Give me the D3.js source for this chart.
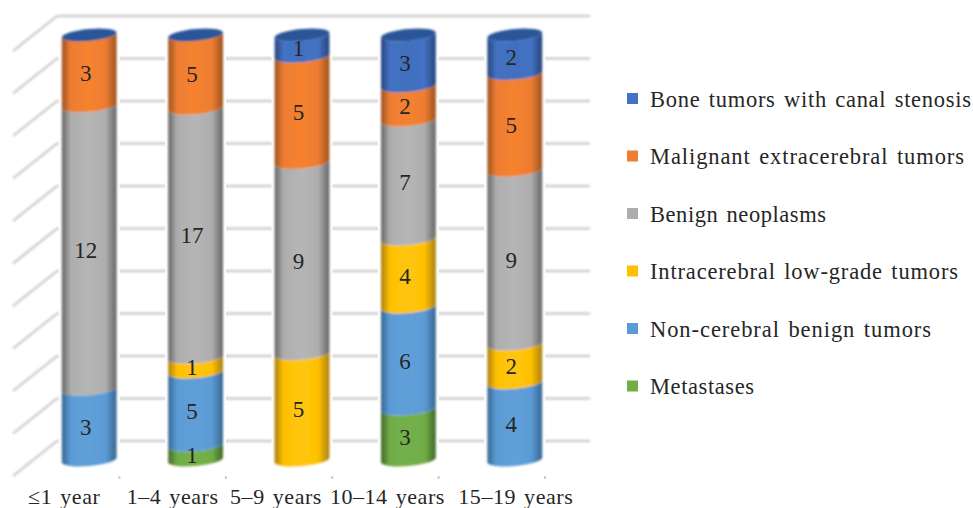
<!DOCTYPE html>
<html>
<head>
<meta charset="utf-8">
<script src="https://cdn.jsdelivr.net/npm/d3@7"></script>
<style>
  html, body { margin: 0; padding: 0; background: #fff; }
  svg { display: block; }
  text { font-family: "Liberation Serif", serif; fill: #262626; }
</style>
</head>
<body>
<div id="chart"></div>
<script>
var categories = ['≤1 year', '1–4 years', '5–9 years', '10–14 years', '15–19 years']
var seriesNames = ['Metastases', 'Non-cerebral benign tumors', 'Intracerebral low-grade tumors',
  'Benign neoplasms', 'Malignant extracerebral tumors', 'Bone tumors with canal stenosis']
var metastases = [0, 1, 0, 3, 0]
var nonCerebral = [3, 5, 0, 6, 4]
var intracerebral = [0, 1, 5, 4, 2]
var benign = [12, 17, 9, 7, 9]
var malignant = [3, 5, 5, 2, 5]
var bone = [0, 0, 1, 3, 2]
var allValues = [metastases, nonCerebral, intracerebral, benign, malignant, bone]
var seriesColors = ['#70ad47', '#5b9bd5', '#ffc000', '#adadad', '#ed7d31', '#4472c4']
var edgeColors = ['#41682a', '#376690', '#a88010', '#666666', '#9c5320', '#264479']
var midColors = ['#74b04a', '#619fd8', '#ffc60f', '#b6b6b6', '#f6822f', '#4270bf']
var gridTicks = [0, .1, .2, .3, .4, .5, .6, .7, .8, .9, 1]

var width = 973, height = 508
var floorLeft = 13, floorRight = 545, floorY = 476
var wallDx = 44, wallDy = 35, wallRight = 590
var colDx = 23, colDy = 19       // columns stand half way into the floor
var colRx = 27.5, colRy = 6, tilt = 5

var svg = d3.select('#chart').append('svg').attr('width', width).attr('height', height)
var defs = svg.append('defs')
defs.append('filter').attr('id', 'soft').append('feGaussianBlur').attr('stdDeviation', 0.8)

seriesNames.forEach(function(name, i) {
  var grad = defs.append('linearGradient').attr('id', 'cyl' + i)
  grad.append('stop').attr('offset', '0%').attr('stop-color', edgeColors[i])
  grad.append('stop').attr('offset', '16%').attr('stop-color', seriesColors[i])
  grad.append('stop').attr('offset', '48%').attr('stop-color', midColors[i])
  grad.append('stop').attr('offset', '80%').attr('stop-color', seriesColors[i])
  grad.append('stop').attr('offset', '100%').attr('stop-color', edgeColors[i])
})

var x = d3.scaleBand().domain(categories).range([floorLeft, floorRight])
var y = d3.scaleLinear().domain([0, 1]).range([441, 16])

var rows = categories.map(function(c, i) {
  var row = { category: c }
  seriesNames.forEach(function(s, k) { row[s] = allValues[k][i] })
  return row
})
var stacked = d3.stack().keys(seriesNames).offset(d3.stackOffsetExpand)(rows)

// walls
var wall = svg.append('g').attr('filter', 'url(#soft)')
wall.selectAll('.diag').data(gridTicks).enter().append('line')
  .attr('x1', floorLeft + wallDx).attr('y1', function(d) { return y(d) })
  .attr('x2', floorLeft).attr('y2', function(d) { return y(d) + wallDy })
  .attr('stroke', '#d2d2d2').attr('stroke-width', 2.8)
wall.selectAll('.back').data(gridTicks).enter().append('line')
  .attr('x1', floorLeft + wallDx).attr('x2', wallRight)
  .attr('y1', function(d) { return y(d) }).attr('y2', function(d) { return y(d) })
  .attr('stroke', '#cecece').attr('stroke-width', 2.6)

// x axis, ticks sit on the band edges so they are added by hand
var axis = svg.append('g').attr('transform', 'translate(0,' + floorY + ')')
  .call(d3.axisBottom(x).tickSize(0).tickPadding(12))
axis.select('.domain').attr('stroke', '#cecece').attr('stroke-width', 2.8).attr('filter', 'url(#soft)')
var labelNudge = [-2, 0, -3, 2, 24]
axis.selectAll('.tick text')
  .attr('font-size', 22).attr('font-family', '"Liberation Serif", serif')
  .style('letter-spacing', '0.55px').style('word-spacing', '2px')
  .attr('dx', function(d, i) { return labelNudge[i] })
axis.selectAll('.edgeTick').data(categories).enter().append('line')
  .attr('x1', function(d) { return x(d) + x.bandwidth() })
  .attr('x2', function(d) { return x(d) + x.bandwidth() })
  .attr('y1', 0).attr('y2', 3).attr('stroke', '#cecece').attr('stroke-width', 2)

function cx(cat) { return x(cat) + x.bandwidth() / 2 + colDx }
function cy(v) { return y(v) + colDy }
var rad = tilt * Math.PI / 180
var ex = colRx * Math.cos(rad), ey = colRx * Math.sin(rad)

function segment(cat, v0, v1) {
  var c = cx(cat), top = cy(v1), bot = cy(v0)
  var arcSpec = colRx + ' ' + colRy + ' ' + (-tilt) + ' 0 '
  return 'M' + (c - ex) + ',' + (top + ey) +
    'A' + arcSpec + '0 ' + (c + ex) + ',' + (top - ey) +
    'L' + (c + ex) + ',' + (bot - ey) +
    'A' + arcSpec + '1 ' + (c - ex) + ',' + (bot + ey) + 'Z'
}

// white halo that interrupts the grid behind each column
svg.append('g').selectAll('rect').data(categories).enter().append('rect')
  .attr('x', function(d) { return cx(d) - colRx - 3 })
  .attr('width', colRx * 2 + 6)
  .attr('y', cy(1) - 4)
  .attr('height', cy(0) - cy(1) + 4)
  .attr('fill', '#fff')

var cols = svg.append('g').attr('filter', 'url(#soft)')
stacked.forEach(function(layer, k) {
  cols.append('g').selectAll('path')
    .data(layer.filter(function(d) { return d[1] > d[0] }))
    .enter().append('path')
    .attr('d', function(d) { return segment(d.data.category, d[0], d[1]) })
    .attr('fill', 'url(#cyl' + k + ')')
})
cols.append('g').selectAll('ellipse').data(categories).enter().append('ellipse')
  .attr('cx', 0).attr('cy', 0).attr('rx', colRx).attr('ry', colRy)
  .attr('transform', function(d) { return 'translate(' + cx(d) + ',' + cy(1) + ') rotate(' + (-tilt) + ')' })
  .attr('fill', '#2c5699')

// value labels
stacked.forEach(function(layer, k) {
  svg.append('g').selectAll('text')
    .data(layer.filter(function(d) { return d[1] > d[0] }))
    .enter().append('text')
    .attr('x', function(d) { return cx(d.data.category) - 3.5 })
    .attr('y', function(d) { return cy((d[0] + d[1]) / 2) + 3 })
    .attr('dy', '0.33em')
    .attr('text-anchor', 'middle')
    .attr('font-size', 23)
    .text(function(d) { return d.data[layer.key] })
})

// legend runs top to bottom in reverse stack order
var legendOrder = seriesNames.slice().reverse()
var legendWidths = [321, 314, 176, 308, 281, 104]
var legendY = d3.scalePoint().domain(legendOrder).range([98.5, 386])
var legend = svg.append('g').selectAll('g').data(legendOrder).enter().append('g')
  .attr('transform', function(d) { return 'translate(0,' + legendY(d) + ')' })
legend.append('rect')
  .attr('x', 627).attr('y', -5.5).attr('width', 11).attr('height', 11)
  .attr('fill', function(d) { return seriesColors[seriesNames.indexOf(d)] })
legend.append('text')
  .attr('x', 650).attr('y', 8)
  .attr('font-size', 22.5)
  .style('word-spacing', '2px')
  .attr('textLength', function(d, i) { return legendWidths[i] })
  .attr('lengthAdjust', 'spacing')
  .text(function(d) { return d })
</script>
</body>
</html>
